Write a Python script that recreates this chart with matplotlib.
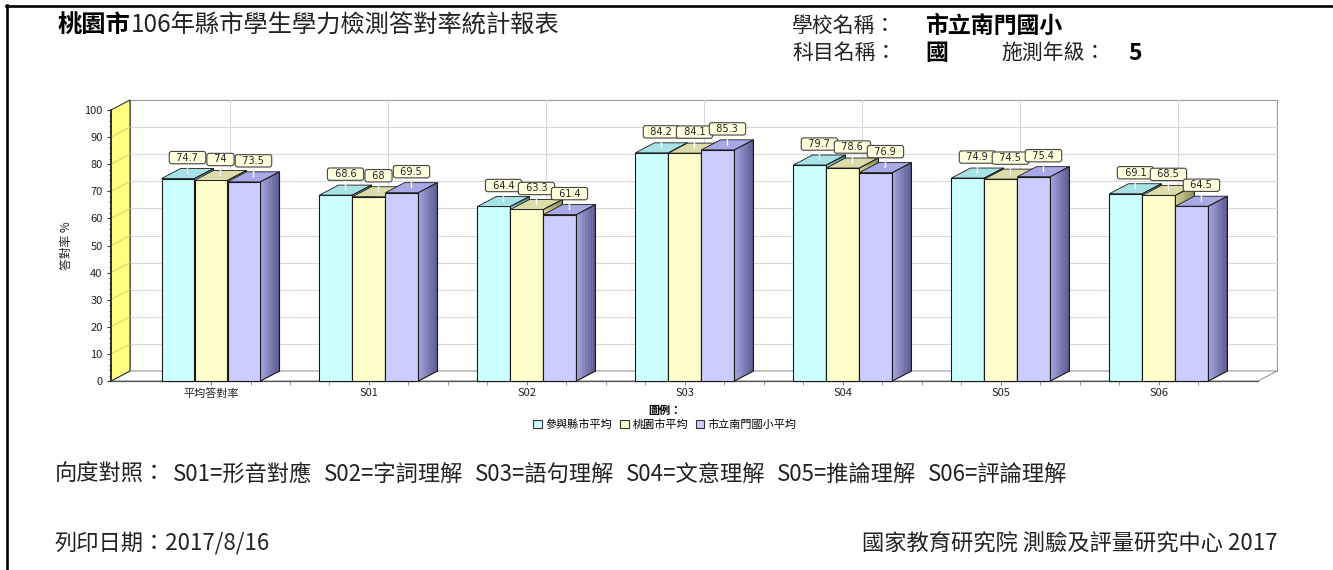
import matplotlib
matplotlib.use('Agg')
import matplotlib.pyplot as plt
from matplotlib.patches import Polygon, Patch
from matplotlib.lines import Line2D
from matplotlib.colors import to_rgb
import numpy as np

# ---------------- data ----------------
categories = ['平均答對率', 'S01', 'S02', 'S03', 'S04', 'S05', 'S06']
series_labels = ['參與縣市平均', '桃園市平均', '市立南門國小平均']
county_avg = [74.7, 68.6, 64.4, 84.2, 79.7, 74.9, 69.1]
taoyuan_avg = [74.0, 68.0, 63.3, 84.1, 78.6, 74.5, 68.5]
school_avg = [73.5, 69.5, 61.4, 85.3, 76.9, 75.4, 64.5]
y_ticks = [0, 10, 20, 30, 40, 50, 60, 70, 80, 90, 100]
dimension_codes = ['S01', 'S02', 'S03', 'S04', 'S05', 'S06']
dimension_names = ['形音對應', '字詞理解', '語句理解', '文意理解', '推論理解', '評論理解']

series_values = [county_avg, taoyuan_avg, school_avg]

# ---------------- style ----------------
plt.rcParams['font.family'] = ['Noto Sans CJK TC', 'DejaVu Sans']
front_colors = ['#ccffff', '#ffffcc', '#ccccff']
top_colors = ['#a6e2e6', '#dcdcaa', '#a9a9e6']
side_colors = [('#8fcfd2', '#4e8a8e'), ('#d0d096', '#8a8a52'), ('#a4a4e0', '#55558c')]
edge = '#1a1a1a'

W, H, DPI = 1333, 570, 100
fig = plt.figure(figsize=(W / DPI, H / DPI), dpi=DPI)
fig.patch.set_facecolor('white')


def fx(px):
    return px / W


def fy(py):
    return 1 - py / H


# ---------------- chart axes ----------------
ax_l, ax_r, ax_t, ax_b = 111, 1258, 110, 381
ax = fig.add_axes([fx(ax_l), fy(ax_b), (ax_r - ax_l) / W, (ax_b - ax_t) / H])
n = len(categories)
x = np.arange(n)
xmin, xmax = -0.633, n - 1 + 0.627
ax.set_xlim(xmin, xmax)
ax.set_ylim(0, 100)
ax.patch.set_visible(False)

px_x = (ax_r - ax_l) / (xmax - xmin)
px_y = (ax_b - ax_t) / 100.0
DX = 19 / px_x
DY = 10 / px_y
BW = 33 / px_x

for s in ['top', 'right']:
    ax.spines[s].set_visible(False)
ax.spines['left'].set_color('#222222')
ax.spines['left'].set_linewidth(1.2)
ax.spines['left'].set_zorder(5)
ax.spines['bottom'].set_color('#555555')
ax.spines['bottom'].set_linewidth(0.9)
ax.spines['bottom'].set_zorder(5)

# walls
ax.add_patch(Polygon([(xmin + DX, DY), (xmax + DX, DY), (xmax + DX, 100 + DY), (xmin + DX, 100 + DY)],
                     closed=True, fc='white', ec='#9a9a9a', lw=0.8, zorder=1, clip_on=False))
ax.add_patch(Polygon([(xmin, 0), (xmax, 0), (xmax + DX, DY), (xmin + DX, DY)],
                     closed=True, fc='white', ec='#9a9a9a', lw=0.8, zorder=1, clip_on=False))
ax.add_patch(Polygon([(xmin, 0), (xmin + DX, DY), (xmin + DX, 100 + DY), (xmin, 100)],
                     closed=True, fc='#ffff80', ec='#333333', lw=0.8, zorder=2, clip_on=False))
for v in y_ticks[1:-1]:
    ax.plot([xmin + DX, xmax + DX], [v + DY, v + DY], color='#d9d9d9', lw=0.8, zorder=1.5, clip_on=False)
    ax.plot([xmin, xmin + DX], [v, v + DY], color='#c8c870', lw=0.6, zorder=2.5, clip_on=False)
for xi in x:
    ax.plot([xi + DX, xi + DX], [DY, 100 + DY], color='#d9d9d9', lw=0.8, zorder=1.5, clip_on=False)

# bars
offsets = [-1, 0, 1]
N = 12
for j, vals in enumerate(series_values):
    bars = ax.bar(x + offsets[j] * BW, vals, width=BW, color=front_colors[j],
                  edgecolor=edge, linewidth=0.8, label=series_labels[j])
    c0 = np.array(to_rgb(side_colors[j][0]))
    c1 = np.array(to_rgb(side_colors[j][1]))
    for i, (rect, v) in enumerate(zip(bars, vals)):
        z = 10 + i * 3 + j
        rect.set_zorder(z)
        rect.set_clip_on(False)
        l = rect.get_x()
        r = l + rect.get_width()
        ax.add_patch(Polygon([(l, v), (r, v), (r + DX, v + DY), (l + DX, v + DY)], closed=True,
                             fc=top_colors[j], ec=edge, lw=0.6, zorder=z, clip_on=False))
        for k in range(N):
            t0, t1 = k / N, (k + 1) / N
            col = c0 + (c1 - c0) * (k + 0.5) / N
            ax.add_patch(Polygon([(r + t0 * DX, t0 * DY), (r + t1 * DX, t1 * DY),
                                  (r + t1 * DX, v + t1 * DY), (r + t0 * DX, v + t0 * DY)],
                                 closed=True, fc=col, ec=col, lw=0.3, zorder=z, clip_on=False))
        ax.add_patch(Polygon([(r, 0), (r + DX, DY), (r + DX, v + DY), (r, v)], closed=True,
                             fill=False, ec=edge, lw=0.8, zorder=z, clip_on=False))

# value labels
for i in range(n):
    for j, vals in enumerate(series_values):
        v = vals[i]
        xc = x[i] + offsets[j] * BW
        ax.annotate('  %s  ' % ('%g' % v), xy=(xc + DX / 2, v + DY / 2), xytext=(0, 11.5),
                    textcoords='offset points', ha='center', va='center', fontsize=7,
                    family=['DejaVu Sans'], color='#222222',
                    bbox=dict(boxstyle='round,pad=0.12,rounding_size=0.25', fc='#ffffdd', ec='#444444', lw=0.8),
                    arrowprops=dict(arrowstyle='-', color='white', lw=1.0, shrinkA=0, shrinkB=0),
                    zorder=100, annotation_clip=False)

# ticks
ax.set_yticks(y_ticks)
ax.set_yticks(np.arange(0, 101, 2), minor=True)
ax.set_yticklabels([str(t) for t in y_ticks])
ax.set_xticks(x)
ax.set_xticklabels(categories)
ax.set_xticks(np.arange(0, n - 0.5, 0.25), minor=True)
ax.tick_params(axis='y', which='major', direction='out', length=3, labelsize=8, pad=3,
               color='#333333', labelcolor='#222222')
ax.tick_params(axis='y', which='minor', direction='out', length=1.5, color='#333333')
ax.tick_params(axis='x', which='both', direction='out', length=3, labelsize=8, pad=2,
               color='#888888', labelcolor='#222222')
ax.set_ylabel('答對率 %', fontsize=8.5, labelpad=8, color='#222222')

# legend
handles = [Patch(fc=c, ec='#333333', lw=0.8) for c in front_colors]
leg = fig.legend(handles, series_labels, loc='upper center', bbox_to_anchor=(fx(665), fy(404)),
                 ncol=3, frameon=False, fontsize=8, title='圖例：',
                 title_fontproperties={'weight': 'bold', 'size': 8},
                 handlelength=0.8, handleheight=0.8, handletextpad=0.3, columnspacing=0.7,
                 borderpad=0, labelspacing=0.2, borderaxespad=0)

# ---------------- header / footer text ----------------
tc = '#222222'
fig.text(fx(57), fy(25), '桃園市', fontsize=17.5, weight='bold', va='center', ha='left', color='black')
fig.text(fx(131), fy(25), '106年縣市學生學力檢測答對率統計報表', fontsize=17.5, va='center', ha='left', color=tc)
fig.text(fx(792), fy(26), '學校名稱：', fontsize=15, va='center', ha='left', color=tc)
fig.text(fx(925), fy(26), '市立南門國小', fontsize=16.5, weight='bold', va='center', ha='left', color='black')
fig.text(fx(792), fy(53), '科目名稱：', fontsize=15, va='center', ha='left', color=tc)
fig.text(fx(925), fy(53), '國', fontsize=16.5, weight='bold', va='center', ha='left', color='black')
fig.text(fx(1001), fy(53), '施測年級：', fontsize=15, va='center', ha='left', color=tc)
fig.text(fx(1128), fy(53), '5', fontsize=16.5, weight='bold', va='center', ha='left', color='black')

fig.text(fx(55), fy(474), '向度對照：', fontsize=16, va='center', ha='left', color=tc)
seg_start, seg_step = 173, 151
for k, (code, name) in enumerate(zip(dimension_codes, dimension_names)):
    fig.text(fx(seg_start + seg_step * k), fy(474), '%s=%s' % (code, name), fontsize=16,
             va='center', ha='left', color=tc)

fig.text(fx(55), fy(543), '列印日期：2017/8/16', fontsize=16, va='center', ha='left', color=tc)
fig.text(fx(1277), fy(543), '國家教育研究院 測驗及評量研究中心 2017', fontsize=16, va='center', ha='right', color=tc)

# page border lines
fig.add_artist(Line2D([fx(6), 1], [fy(5.5), fy(5.5)], transform=fig.transFigure, color='black', lw=1.9))
fig.add_artist(Line2D([fx(7), fx(7)], [fy(4.5), 0], transform=fig.transFigure, color='black', lw=1.9))

fig.savefig('out.png', dpi=DPI, facecolor='white')
